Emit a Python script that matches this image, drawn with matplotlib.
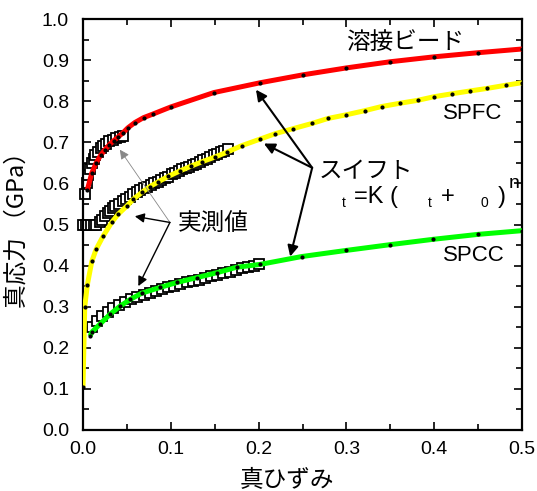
import matplotlib.pyplot as plt
from matplotlib.ticker import MultipleLocator

plt.rcParams['font.family'] = ['Liberation Sans', 'Noto Sans CJK JP', 'DejaVu Sans']
JP = ['Noto Sans CJK JP', 'Liberation Sans']

# swift fit curves
red_x = [0.005, 0.010, 0.015, 0.020, 0.025, 0.030, 0.035, 0.040, 0.045, 0.051, 0.059, 0.069,
         0.080, 0.100, 0.149, 0.202, 0.250, 0.300, 0.350, 0.400, 0.450, 0.500]
red_y = [0.585, 0.625, 0.650, 0.668, 0.682, 0.694, 0.704, 0.713, 0.722, 0.735, 0.748, 0.760,
         0.769, 0.786, 0.821, 0.845, 0.864, 0.881, 0.896, 0.908, 0.918, 0.927]

yel_x = [0.0, 0.002, 0.005, 0.010, 0.015, 0.023, 0.033, 0.040, 0.050, 0.057, 0.067, 0.076,
         0.085, 0.097, 0.110, 0.123, 0.136, 0.150, 0.164, 0.181, 0.202, 0.219, 0.239, 0.261,
         0.279, 0.300, 0.321, 0.340, 0.361, 0.381, 0.400, 0.420, 0.441, 0.460, 0.482, 0.500]
yel_y = [0.105, 0.300, 0.354, 0.410, 0.440, 0.472, 0.506, 0.525, 0.545, 0.561, 0.578, 0.592,
         0.603, 0.617, 0.630, 0.642, 0.653, 0.664, 0.676, 0.692, 0.708, 0.721, 0.733, 0.746,
         0.758, 0.767, 0.777, 0.787, 0.795, 0.802, 0.811, 0.818, 0.825, 0.831, 0.839, 0.845]

grn_x = [0.008, 0.010, 0.019, 0.031, 0.042, 0.054, 0.067, 0.088, 0.107, 0.130, 0.153, 0.175,
         0.202, 0.249, 0.300, 0.350, 0.399, 0.450, 0.500]
grn_y = [0.228, 0.238, 0.257, 0.282, 0.301, 0.318, 0.333, 0.347, 0.359, 0.371, 0.383, 0.396,
         0.403, 0.422, 0.437, 0.451, 0.464, 0.476, 0.485]

# measured data (squares)
red_mx = [0.002, 0.004, 0.006, 0.008, 0.010, 0.012, 0.014, 0.017, 0.020, 0.023, 0.026, 0.030,
          0.034, 0.038, 0.042, 0.045]
red_my = [0.575, 0.600, 0.620, 0.636, 0.650, 0.660, 0.668, 0.677, 0.685, 0.692, 0.697, 0.702,
          0.706, 0.710, 0.713, 0.716]

yel_mx = [0.000, 0.003, 0.006, 0.009, 0.012, 0.015, 0.019, 0.022, 0.025, 0.028, 0.031, 0.034,
          0.037, 0.041, 0.045, 0.049, 0.053, 0.057, 0.061, 0.065, 0.069, 0.073, 0.077, 0.081,
          0.085, 0.089, 0.093, 0.097, 0.101, 0.105, 0.109, 0.113, 0.117, 0.121, 0.125, 0.129,
          0.133, 0.137, 0.141, 0.145, 0.149, 0.153, 0.157, 0.161, 0.165]
yel_my = [0.500, 0.500, 0.500, 0.500, 0.500, 0.500, 0.505, 0.512, 0.520, 0.527, 0.533, 0.539,
          0.545, 0.551, 0.557, 0.563, 0.568, 0.573, 0.578, 0.583, 0.588, 0.592, 0.596, 0.600,
          0.604, 0.608, 0.612, 0.615, 0.622, 0.626, 0.630, 0.634, 0.637, 0.641, 0.645, 0.648,
          0.652, 0.656, 0.660, 0.664, 0.668, 0.672, 0.676, 0.680, 0.684]

grn_mx = [0.010, 0.016, 0.022, 0.028, 0.034, 0.041, 0.048, 0.055, 0.062, 0.069, 0.076, 0.083,
          0.090, 0.097, 0.104, 0.111, 0.118, 0.125, 0.132, 0.139, 0.146, 0.153, 0.160, 0.167,
          0.174, 0.181, 0.188, 0.195, 0.200]
grn_my = [0.250, 0.265, 0.277, 0.288, 0.297, 0.305, 0.312, 0.318, 0.323, 0.328, 0.333, 0.338,
          0.342, 0.347, 0.351, 0.355, 0.359, 0.363, 0.366, 0.370, 0.374, 0.377, 0.381, 0.385,
          0.389, 0.393, 0.397, 0.400, 0.403]

fig = plt.figure(figsize=(5.37, 4.91), dpi=100)
ax = fig.add_axes([83/537, 61/491, 439/537, 411/491])

for mx, my in [(red_mx, red_my), (yel_mx, yel_my), (grn_mx, grn_my)]:
    ax.plot(mx, my, ls='none', marker='s', ms=7.5, mfc='white', mec='black', mew=1.3,
            clip_on=False, zorder=2)

for cx, cy, col in [(red_x, red_y, '#ff0000'), (yel_x, yel_y, '#ffff00'), (grn_x, grn_y, '#00ff00')]:
    ax.plot(cx, cy, color=col, lw=3.6, solid_capstyle='butt', zorder=3)
    ax.plot(cx, cy, ls='none', marker='o', ms=2, color='black', zorder=4)

ax.set_xlim(0, 0.5)
ax.set_ylim(0, 1.0)
ax.xaxis.set_minor_locator(MultipleLocator(0.05))
ax.yaxis.set_minor_locator(MultipleLocator(0.05))
ax.set_xticks([0, 0.1, 0.2, 0.3, 0.4, 0.5], ['0.0', '0.1', '0.2', '0.3', '0.4', '0.5'])
ax.set_yticks([i / 10 for i in range(11)], ['%.1f' % (i / 10) for i in range(11)])
ax.tick_params(which='both', direction='in', top=True, right=True, width=1.2, labelsize=14)
ax.tick_params(which='major', length=6)
ax.tick_params(which='minor', length=4)
ax.tick_params(axis='y', pad=10)
ax.tick_params(axis='x', pad=8)
for s in ax.spines.values():
    s.set_linewidth(1.6)

ax.set_xlabel('真ひずみ', fontsize=17, family=JP)
ax.xaxis.set_label_coords((287 - 83) / 439, -0.095)
ax.set_ylabel('真応力 （GPa）', fontsize=17, family=JP)
ax.yaxis.set_label_coords(-0.125, 0.5)

ax.text(0.30, 0.944, '溶接ビード', fontsize=17, family=JP, va='center')
ax.text(0.41, 0.77, 'SPFC', fontsize=16, va='center')
ax.text(0.41, 0.425, 'SPCC', fontsize=16, va='center')
ax.text(0.268, 0.629, 'スイフト', fontsize=17, family=JP, va='center')
ax.text(0.108, 0.50, '実測値', fontsize=17, family=JP, va='center')

# equation (greek glyphs missing in the original, only subscripts show)
ax.text(0.295, 0.553, 't', fontsize=10, va='center')
ax.text(0.309, 0.566, '=K (', fontsize=17, va='center')
ax.text(0.393, 0.553, 't', fontsize=10, va='center')
ax.text(0.408, 0.566, '+', fontsize=17, va='center')
ax.text(0.453, 0.553, '0', fontsize=10, va='center')
ax.text(0.472, 0.566, ')', fontsize=17, va='center')
ax.text(0.485, 0.600, 'n', fontsize=14, va='center')

src = (0.261, 0.638)
for tgt in [(0.197, 0.828), (0.206, 0.697), (0.236, 0.422)]:
    ax.annotate('', xy=tgt, xytext=src,
                arrowprops=dict(arrowstyle='-|>', color='black', lw=1.5, mutation_scale=16,
                                shrinkA=0, shrinkB=0))

src2 = (0.099, 0.505)
for tgt, col, lw in [((0.042, 0.682), '#888888', 0.6), ((0.059, 0.52), 'black', 1.0),
                     ((0.063, 0.35), 'black', 1.0)]:
    ax.annotate('', xy=tgt, xytext=src2,
                arrowprops=dict(arrowstyle='-|>', color=col, lw=lw, mutation_scale=14,
                                shrinkA=0, shrinkB=0))

fig.savefig('out.png', dpi=100)
